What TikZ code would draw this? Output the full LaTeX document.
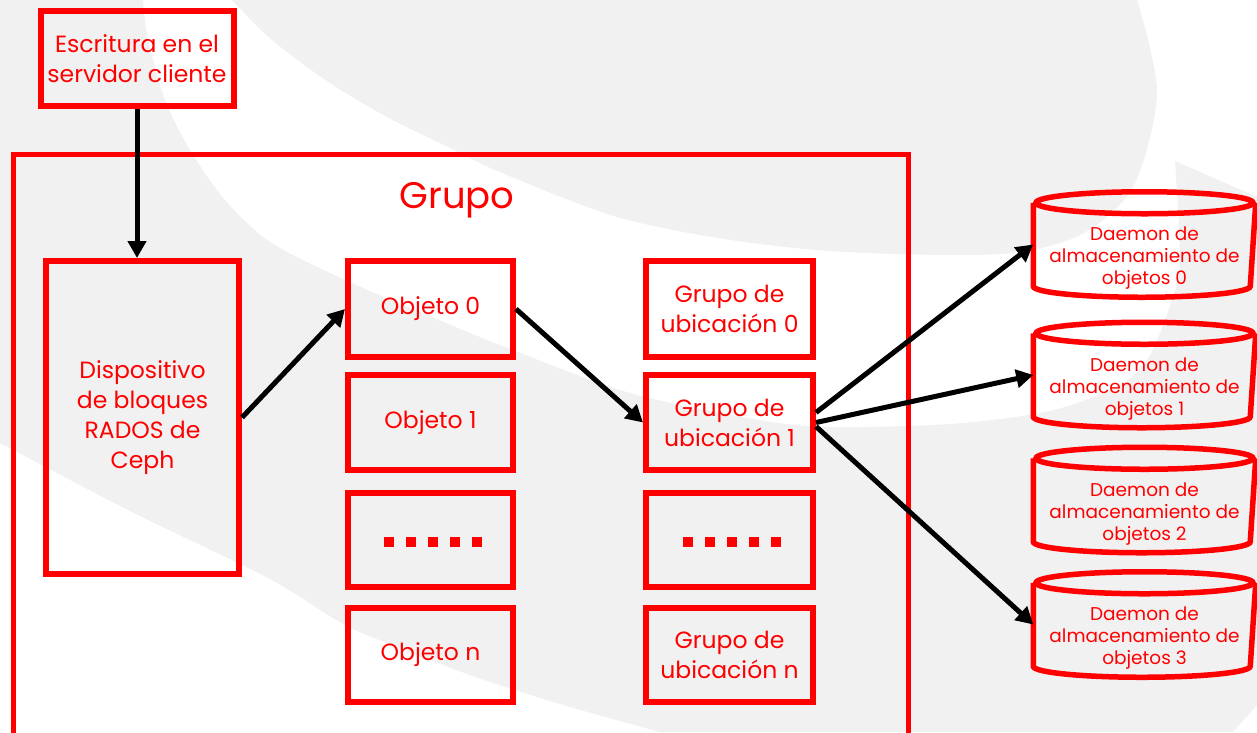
\documentclass[tikz,border=0pt]{standalone}
\usepackage{fontspec}
\setmainfont{Poppins}
\usetikzlibrary{arrows.meta,calc}
\definecolor{cephred}{HTML}{FF0000}
\definecolor{swoosh}{HTML}{F1F1F1}
\newcommand\mainfs{\fontsize{23.5}{30}\selectfont}
\newcommand\diskfs{\fontsize{18.5}{22}\selectfont}
\newcommand\titlefs{\fontsize{37}{40}\selectfont}
\tikzset{
  box/.style={draw=cephred, line width=6pt, text=cephred, align=center,
    inner sep=0pt, font=\mainfs},
  objbox/.style={box, minimum width=165pt},
  pgbox/.style={box, minimum width=167pt},
  groupbox/.style={draw=cephred, line width=5pt, inner sep=0pt},
  disk/.style={inner sep=0pt, outer sep=2.75pt, minimum width=217pt,
    minimum height=100pt},
  disktext/.style={text=cephred, align=center, font=\diskfs, inner sep=0pt},
  diskline/.style={draw=cephred, line width=5.5pt},
  flow/.style={draw=black, line width=5pt,
    -{Triangle[length=17pt,width=18pt]}},
}
% storage daemon cylinder drawn round a named node
\newcommand\drawdisk[1]{%
  \draw[diskline] ($(#1.north west)+(0,11)$) -- ($(#1.south west)+(0,-11)$)
    arc[start angle=180, end angle=360, x radius=108.5pt, y radius=11pt]
    -- ($(#1.north east)+(0,11)$);
  \draw[diskline] ($(#1.north)+(0,11)$) ellipse[x radius=108.5pt, y radius=11pt];
}
\begin{document}
\begin{tikzpicture}[x=1pt,y=-1pt]
\useasboundingbox (0,0) rectangle (1257,732);
\clip (0,0) rectangle (1257,732);
\fill[white] (0,0) rectangle (1257,732);

% background swooshes
\fill[swoosh] plot[smooth] coordinates {(232,0) (272,40) (330,83) (387,117)
  (444,145) (502,173) (617,217) (731,240) (846,252) (1000,254) (1080,235)
  (1133,187) (1157,93) (1137,0)} -- cycle;
\fill[swoosh] (0,0) -- plot[smooth] coordinates {(143,0) (148,40) (165,100)
  (190,150) (225,200) (270,242) (345,280) (420,312) (500,345) (630,393)
  (760,420) (830,427) (950,424) (1050,411) (1120,385) (1150,355) (1172,300)
  (1180,262) (1175,161)} -- (1257,197) -- (1257,705) -- (1233,732)
  -- plot[smooth] coordinates {(660,732) (560,704) (470,675) (400,648)
  (345,625) (268,578) (134,513) (0,443)} -- cycle;

% pool
\node[groupbox, minimum width=895.5pt, minimum height=615.5pt] (pool) at (460.75,462.25) {};
\node[text=cephred, font=\titlefs, inner sep=0pt] (pooltitle) at (457,200) {Grupo};

% client and block device
\node[box, minimum width=193pt, minimum height=95pt] (client) at (137,58.5)
  {Escritura en el\\servidor cliente};
\node[box, minimum width=193pt, minimum height=313pt] (rados) at (142.5,417.5)
  {Dispositivo\\de bloques\\RADOS de\\Ceph};

% objects
\node[objbox, minimum height=96pt] (obj0) at (430.5,309) {Objeto 0};
\node[objbox, minimum height=95pt] (obj1) at (430.5,422.5) {Objeto 1};
\node[objbox, minimum height=94pt] (objdots) at (430.5,540) {};
\node[objbox, minimum height=94pt] (objn) at (430.5,655) {Objeto n};

% placement groups
\node[pgbox, minimum height=96pt] (pg0) at (729.5,309) {Grupo de\\ubicación 0};
\node[pgbox, minimum height=95pt] (pg1) at (729.5,422.5) {Grupo de\\ubicación 1};
\node[pgbox, minimum height=94pt] (pgdots) at (729.5,540) {};
\node[pgbox, minimum height=94pt] (pgn) at (729.5,655) {Grupo de\\ubicación n};

\foreach \n in {objdots,pgdots}
  \foreach \i in {-2,...,2}
    \fill[cephred] ($(\n)+(\i*22-3,-3)$) rectangle +(10,10);

% object storage daemons
\foreach \k/\y in {0/244.5,1/375,2/500,3/624.5}{
  \node[disk] (osd\k) at (1144.5,\y) {};
  \drawdisk{osd\k}
  \node[disktext] (osd\k text) at ($(osd\k)+(0,14)$)
    {Daemon de\\almacenamiento de\\objetos \k};
}

% data flow
\draw[flow] (client.south) -- (client.south |- rados.north);
\draw[flow] (rados.east) -- (obj0.west);
\draw[flow] (obj0.east) -- (pg1.west);
\draw[flow] ([yshift=10pt]pg1.east) -- (osd0.west);
\draw[flow] (pg1.east) -- (osd1.west);
\draw[flow] ([yshift=-4pt]pg1.east) -- (osd3.west);
\end{tikzpicture}
\end{document}
